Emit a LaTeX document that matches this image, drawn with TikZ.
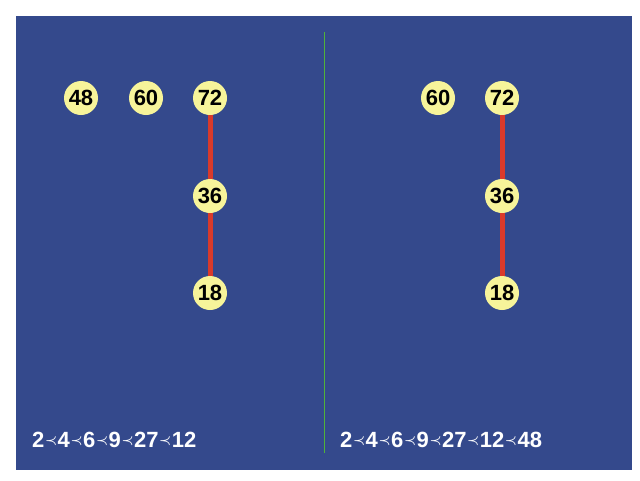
\documentclass[tikz,border=0pt]{standalone}
\usepackage{fontspec}
\setmainfont{Liberation Sans}
\usepackage{tikz}
\usepackage{amsmath}
\usepackage{amssymb}
\definecolor{bgblue}{HTML}{34498C}
\definecolor{nodeyellow}{HTML}{F7F49A}
\definecolor{edgered}{HTML}{D93A2B}
\definecolor{splitgreen}{HTML}{4FB33A}
\newcommand{\pr}{\hspace{0.6pt}\raisebox{0.25ex}{\scalebox{0.65}{$\boldsymbol{\prec}$}}\hspace{0.6pt}}

\begin{document}
\begin{tikzpicture}[
        x=1pt, y=-1pt,
        num/.style={circle, fill=nodeyellow, minimum size=34pt, inner sep=0pt, font=\bfseries\fontsize{22}{22}\selectfont},
        link/.style={edgered, line width=5pt},
        chain/.style={white, anchor=base west, inner sep=0pt, font=\bfseries\fontsize{22}{22}\selectfont}
    ]
    \useasboundingbox (0,0) rectangle (640,480);
    \fill[bgblue] (16,16) rectangle (632,470);

    % Divider
    \coordinate (top) at (324,32);
    \coordinate (bot) at (324,453);
    \draw[splitgreen, line width=1pt] (top) -- (bot);

    % Left forest (48, 60 and chain 72-36-18)
    \node[num] (L48) at (81,98) {48};
    \node[num] (L60) at (146,98) {60};
    \node[num] (L72) at (210,98) {72};
    \node[num] (L36) at (210,196) {36};
    \node[num] (L18) at (210,293) {18};
    \draw[link] (L72) -- (L36);
    \draw[link] (L36) -- (L18);

    % Right forest (60 and chain 72-36-18)
    \node[num] (R60) at (438,98) {60};
    \node[num] (R72) at (502,98) {72};
    \node[num] (R36) at (502,196) {36};
    \node[num] (R18) at (502,293) {18};
    \draw[link] (R72) -- (R36);
    \draw[link] (R36) -- (R18);

    % Orders
    \node[chain] (Lord) at (32,447) {2\pr4\pr6\pr9\pr27\pr12};
    \node[chain] (Rord) at (340,447) {2\pr4\pr6\pr9\pr27\pr12\pr48};
\end{tikzpicture}
\end{document}
